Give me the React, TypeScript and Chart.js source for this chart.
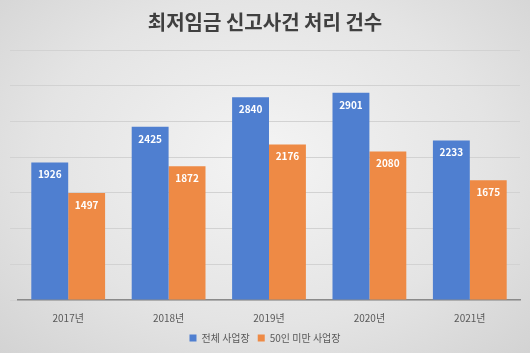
import React, { useEffect, useRef } from "react";
import { Chart, registerables } from "chart.js";

Chart.register(...registerables);

const categories = ["2017년", "2018년", "2019년", "2020년", "2021년"];
const seriesNames = ["전체 사업장", "50인 미만 사업장"];
const totalValues = [1926, 2425, 2840, 2901, 2233];
const smallValues = [1497, 1872, 2176, 2080, 1675];
const titleText = "최저임금 신고사건 처리 건수";

const FONT = "'Noto Sans CJK KR', 'Noto Sans', sans-serif";

const labelPlugin = {
  id: "barLabels",
  afterDatasetsDraw(chart: any) {
    const ctx = chart.ctx;
    ctx.save();
    ctx.fillStyle = "#ffffff";
    ctx.font = `bold 10px ${FONT}`;
    ctx.textAlign = "center";
    ctx.textBaseline = "middle";
    chart.data.datasets.forEach((ds: any, i: number) => {
      const meta = chart.getDatasetMeta(i);
      meta.data.forEach((el: any, j: number) => {
        ctx.fillText(String(ds.data[j]), el.x, el.y + 12);
      });
    });
    ctx.restore();
  },
};

export default function App() {
  const ref = useRef<HTMLCanvasElement | null>(null);
  useEffect(() => {
    if (!ref.current) return;
    const chart = new Chart(ref.current, {
      type: "bar",
      data: {
        labels: categories,
        datasets: [
          { label: seriesNames[0], data: totalValues, backgroundColor: "#4f7fd0" },
          { label: seriesNames[1], data: smallValues, backgroundColor: "#ee8a45" },
        ],
      },
      options: {
        animation: false,
        responsive: false,
        maintainAspectRatio: false,
        layout: { padding: { left: 10, right: 10, top: 0, bottom: 0 } },
        datasets: { bar: { categoryPercentage: 0.735, barPercentage: 1 } },
        scales: {
          x: {
            grid: { display: false },
            border: { display: true, color: "#8a8a8a", width: 1.5 },
            ticks: { color: "#595959", font: { family: FONT, size: 10 }, padding: 4 },
            afterFit: (scale: any) => {
              scale.height = 25;
            },
          },
          y: {
            min: 0,
            max: 3500,
            grid: { color: "#d2d2d2", lineWidth: 1 },
            border: { display: false },
            ticks: { display: false, stepSize: 500 },
          },
        },
        plugins: {
          title: {
            display: true,
            text: titleText,
            color: "#404040",
            font: { family: FONT, size: 20, weight: "bold" },
            padding: { top: 10, bottom: 16 },
          },
          legend: {
            position: "bottom",
            labels: {
              color: "#595959",
              font: { family: FONT, size: 10 },
              boxWidth: 7,
              boxHeight: 7,
              padding: 8,
            },
          },
          tooltip: { enabled: false },
        },
      },
      plugins: [labelPlugin],
    });
    return () => chart.destroy();
  }, []);
  return (
    <div
      style={{
        position: "fixed",
        left: 0,
        top: 0,
        width: 530,
        height: 353,
        background: "radial-gradient(ellipse at 50% 45%, #f4f4f4 0%, #e4e4e4 60%, #d3d3d3 100%)",
      }}
    >
      <canvas ref={ref} width={530} height={353} style={{ display: "block" }} />
    </div>
  );
}
